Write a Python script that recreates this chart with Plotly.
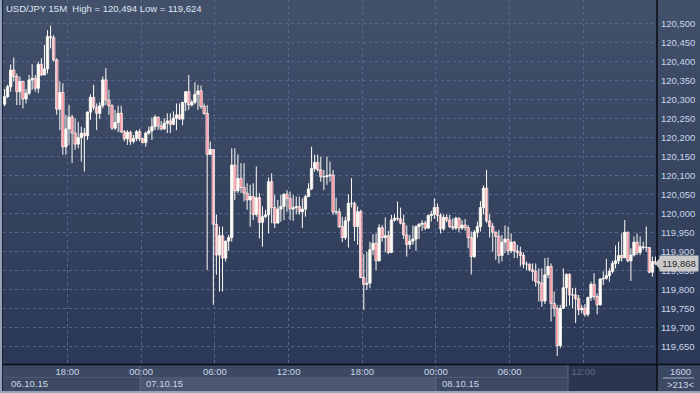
import plotly.graph_objects as go
import pandas as pd

# ---------------- data ----------------
symbol = "USD/JPY"
timeframe = "15M"
first_bar_mid = "2015-10-06 12:52:30"   # bars are 15 minutes each
bar_freq = "15min"
x_start = "2015-10-06 12:45"
x_end = "2015-10-08 18:00"

opens = [120.287, 120.307, 120.333, 120.377, 120.360, 120.320, 120.347, 120.301, 120.316, 120.351,
         120.355, 120.329, 120.392, 120.364, 120.380, 120.465, 120.462, 120.404, 120.274, 120.318,
         120.175, 120.222, 120.253, 120.211, 120.182, 120.199, 120.211, 120.204, 120.266, 120.305,
         120.279, 120.263, 120.283, 120.351, 120.298, 120.283, 120.224, 120.239, 120.263, 120.215,
         120.196, 120.213, 120.189, 120.197, 120.215, 120.196, 120.186, 120.211, 120.217, 120.228,
         120.253, 120.230, 120.222, 120.237, 120.243, 120.234, 120.250, 120.259, 120.248, 120.292,
         120.320, 120.285, 120.292, 120.313, 120.322, 120.281, 120.263, 120.155, 120.168, 119.971,
         119.890, 119.941, 119.882, 119.927, 119.936, 120.127, 120.059, 120.092, 120.068, 120.053,
         120.035, 120.044, 119.997, 120.041, 119.976, 119.991, 119.996, 120.083, 120.015, 119.974,
         120.011, 120.018, 120.050, 120.039, 120.011, 120.015, 120.018, 120.004, 120.011, 120.044,
         120.064, 120.118, 120.134, 120.114, 120.096, 120.096, 120.099, 120.101, 120.003, 120.004,
         119.965, 119.936, 119.980, 120.026, 120.026, 119.965, 120.004, 119.831, 119.813, 119.816,
         119.904, 119.921, 119.875, 119.962, 119.936, 119.941, 119.897, 119.982, 119.987, 119.985,
         119.974, 119.943, 119.918, 119.927, 119.932, 119.965, 119.971, 119.974, 119.961, 119.994,
         119.997, 120.015, 119.994, 119.959, 119.989, 119.982, 119.965, 119.961, 119.987, 119.961,
         119.969, 119.962, 119.936, 119.886, 119.950, 119.965, 120.015, 120.066, 119.980, 119.965,
         119.950, 119.939, 119.889, 119.924, 119.932, 119.901, 119.924, 119.901, 119.897, 119.889,
         119.866, 119.866, 119.851, 119.847, 119.820, 119.816, 119.769, 119.838, 119.860, 119.763,
         119.750, 119.652, 119.750, 119.804, 119.839, 119.785, 119.785, 119.775, 119.746, 119.750,
         119.734, 119.778, 119.813, 119.781, 119.759, 119.827, 119.829, 119.836, 119.847, 119.868,
         119.875, 119.889, 119.883, 119.950, 119.875, 119.890, 119.924, 119.897, 119.912, 119.910,
         119.910, 119.845, 119.873]

highs = [120.327, 120.338, 120.392, 120.410, 120.368, 120.360, 120.347, 120.327, 120.364, 120.392,
         120.364, 120.399, 120.408, 120.443, 120.482, 120.494, 120.469, 120.408, 120.347, 120.342,
         120.259, 120.285, 120.259, 120.250, 120.241, 120.228, 120.224, 120.268, 120.313, 120.338,
         120.289, 120.292, 120.360, 120.382, 120.325, 120.287, 120.272, 120.283, 120.283, 120.219,
         120.219, 120.217, 120.206, 120.219, 120.222, 120.199, 120.215, 120.228, 120.252, 120.259,
         120.254, 120.243, 120.250, 120.263, 120.263, 120.268, 120.289, 120.289, 120.292, 120.320,
         120.364, 120.298, 120.345, 120.338, 120.336, 120.289, 120.285, 120.189, 120.168, 119.997,
         119.965, 119.965, 119.927, 119.943, 120.171, 120.171, 120.155, 120.132, 120.132, 120.079,
         120.075, 120.079, 120.123, 120.053, 120.018, 120.009, 120.094, 120.105, 120.048, 120.035,
         120.048, 120.053, 120.061, 120.057, 120.048, 120.044, 120.044, 120.039, 120.048, 120.079,
         120.175, 120.154, 120.154, 120.149, 120.114, 120.149, 120.136, 120.114, 120.041, 120.013,
         119.991, 119.991, 120.050, 120.092, 120.031, 120.018, 120.009, 119.892, 119.899, 119.925,
         119.945, 119.947, 119.971, 119.969, 119.989, 119.954, 119.996, 119.997, 120.031, 120.015,
         119.997, 119.968, 119.943, 119.968, 119.968, 119.974, 119.982, 119.980, 119.997, 120.006,
         120.039, 120.026, 120.000, 119.997, 119.997, 119.996, 119.987, 119.991, 119.989, 119.982,
         119.985, 119.969, 119.952, 119.956, 119.978, 120.032, 120.073, 120.114, 119.997, 119.974,
         119.952, 119.956, 119.943, 119.968, 119.965, 119.947, 119.927, 119.917, 119.912, 119.897,
         119.873, 119.868, 119.868, 119.868, 119.855, 119.855, 119.882, 119.883, 119.868, 119.794,
         119.759, 119.759, 119.855, 119.842, 119.842, 119.803, 119.804, 119.785, 119.759, 119.761,
         119.781, 119.820, 119.842, 119.789, 119.829, 119.847, 119.880, 119.855, 119.875, 119.915,
         119.925, 119.947, 119.982, 119.952, 119.908, 119.939, 119.947, 119.939, 119.925, 119.965,
         119.910, 119.886, 119.886]

lows = [120.282, 120.303, 120.320, 120.347, 120.285, 120.285, 120.276, 120.289, 120.311, 120.325,
        120.320, 120.316, 120.362, 120.364, 120.368, 120.434, 120.399, 120.259, 120.219, 120.154,
        120.154, 120.180, 120.132, 120.167, 120.171, 120.136, 120.110, 120.193, 120.246, 120.272,
        120.219, 120.248, 120.276, 120.285, 120.259, 120.219, 120.219, 120.213, 120.211, 120.189,
        120.180, 120.180, 120.184, 120.190, 120.189, 120.184, 120.175, 120.206, 120.193, 120.219,
        120.219, 120.218, 120.219, 120.211, 120.211, 120.232, 120.219, 120.246, 120.232, 120.269,
        120.272, 120.281, 120.287, 120.272, 120.275, 120.259, 119.851, 120.154, 119.759, 119.838,
        119.794, 119.794, 119.873, 119.901, 119.925, 120.035, 120.053, 120.053, 120.031, 120.009,
        119.965, 119.982, 119.991, 119.934, 119.912, 119.987, 119.947, 119.974, 119.961, 119.974,
        119.978, 119.982, 120.004, 119.982, 119.980, 119.997, 119.996, 119.961, 119.991, 120.044,
        120.061, 120.110, 120.110, 120.083, 120.061, 120.075, 120.083, 119.996, 119.996, 119.961,
        119.924, 119.930, 119.910, 120.015, 119.927, 119.917, 119.829, 119.746, 119.798, 119.803,
        119.890, 119.851, 119.873, 119.925, 119.897, 119.892, 119.895, 119.978, 119.980, 119.971,
        119.932, 119.886, 119.906, 119.917, 119.901, 119.932, 119.954, 119.956, 119.959, 119.978,
        119.985, 119.978, 119.947, 119.954, 119.976, 119.961, 119.956, 119.956, 119.950, 119.956,
        119.954, 119.908, 119.839, 119.882, 119.936, 119.952, 119.997, 119.974, 119.936, 119.899,
        119.877, 119.868, 119.873, 119.895, 119.890, 119.895, 119.882, 119.882, 119.860, 119.855,
        119.851, 119.847, 119.822, 119.807, 119.768, 119.754, 119.761, 119.829, 119.715, 119.728,
        119.624, 119.645, 119.748, 119.754, 119.757, 119.750, 119.711, 119.732, 119.737, 119.728,
        119.728, 119.769, 119.772, 119.734, 119.757, 119.811, 119.825, 119.820, 119.842, 119.855,
        119.866, 119.873, 119.882, 119.871, 119.822, 119.886, 119.890, 119.890, 119.904, 119.899,
        119.842, 119.833, 119.864]

closes = [120.307, 120.333, 120.377, 120.360, 120.320, 120.347, 120.301, 120.316, 120.351, 120.355,
          120.329, 120.392, 120.364, 120.380, 120.465, 120.462, 120.404, 120.274, 120.318, 120.175,
          120.222, 120.253, 120.211, 120.182, 120.199, 120.211, 120.204, 120.266, 120.305, 120.279,
          120.263, 120.283, 120.351, 120.298, 120.283, 120.224, 120.239, 120.263, 120.215, 120.196,
          120.213, 120.189, 120.197, 120.215, 120.196, 120.186, 120.211, 120.217, 120.228, 120.253,
          120.230, 120.222, 120.237, 120.243, 120.234, 120.250, 120.259, 120.248, 120.292, 120.320,
          120.285, 120.292, 120.313, 120.322, 120.281, 120.263, 120.155, 120.168, 119.971, 119.890,
          119.941, 119.882, 119.927, 119.936, 120.127, 120.059, 120.092, 120.068, 120.053, 120.035,
          120.044, 119.997, 120.041, 119.976, 119.991, 119.996, 120.083, 120.015, 119.974, 120.011,
          120.018, 120.050, 120.039, 120.011, 120.015, 120.018, 120.004, 120.011, 120.044, 120.064,
          120.118, 120.134, 120.114, 120.096, 120.096, 120.099, 120.101, 120.003, 120.004, 119.965,
          119.936, 119.980, 120.026, 120.026, 119.965, 120.004, 119.831, 119.813, 119.816, 119.904,
          119.921, 119.875, 119.962, 119.936, 119.941, 119.897, 119.982, 119.987, 119.985, 119.974,
          119.943, 119.918, 119.927, 119.932, 119.965, 119.971, 119.974, 119.961, 119.994, 119.997,
          120.015, 119.994, 119.959, 119.989, 119.982, 119.965, 119.961, 119.987, 119.961, 119.969,
          119.962, 119.936, 119.886, 119.950, 119.965, 120.015, 120.066, 119.980, 119.965, 119.950,
          119.939, 119.889, 119.924, 119.932, 119.901, 119.924, 119.901, 119.897, 119.889, 119.866,
          119.866, 119.851, 119.847, 119.820, 119.816, 119.769, 119.838, 119.860, 119.763, 119.750,
          119.652, 119.750, 119.804, 119.839, 119.785, 119.785, 119.775, 119.746, 119.750, 119.734,
          119.778, 119.813, 119.781, 119.759, 119.827, 119.829, 119.836, 119.847, 119.868, 119.875,
          119.889, 119.883, 119.950, 119.875, 119.890, 119.924, 119.897, 119.912, 119.910, 119.910,
          119.845, 119.873, 119.868]

price_ticks = [119.65, 119.70, 119.75, 119.80, 119.85, 119.90, 119.95, 120.00, 120.05,
               120.10, 120.15, 120.20, 120.25, 120.30, 120.35, 120.40, 120.45, 120.50]
time_ticks = ["2015-10-06 18:00", "2015-10-07 00:00", "2015-10-07 06:00", "2015-10-07 12:00",
              "2015-10-07 18:00", "2015-10-08 00:00", "2015-10-08 06:00", "2015-10-08 12:00"]
time_labels = ["18:00", "00:00", "06:00", "12:00", "18:00", "00:00", "06:00", "12:00"]
day_labels = ["06.10.15", "07.10.15", "08.10.15"]
corner_top = "1600"

# ---------------- layout geometry ----------------
W, H = 700, 393
ML, MR, MT, MB = 3, 43, 0, 29
PW = W - ML - MR
PH = H - MT - MB
y_range = [119.6033, 120.5613]
BAR_MS = 15 * 60 * 1000


def px(x):
    return (x - ML) / PW


def py(y):
    return (H - MB - y) / PH


def fmt(v):
    return f"{v:.3f}".replace(".", ",")


times = list(pd.date_range(first_bar_mid, periods=len(closes), freq=bar_freq))

candle_white = "#fffcf5"
candle_red = "#ee0a36"

# wicks
wx, wy = [], []
for t, lo, hi in zip(times, lows, highs):
    wx += [t, t, None]
    wy += [lo, hi, None]

body_base = [min(o, c) for o, c in zip(opens, closes)]
body_size = [abs(c - o) for o, c in zip(opens, closes)]
body_color = [candle_red if c < o else candle_white for o, c in zip(opens, closes)]

fig = go.Figure()
fig.add_trace(go.Scatter(x=wx, y=wy, mode="lines", line=dict(color=candle_white, width=1),
                         hoverinfo="skip", showlegend=False))
fig.add_trace(go.Bar(x=times, y=body_size, base=body_base, width=BAR_MS * 0.78,
                     marker=dict(color=body_color, line=dict(color=candle_white, width=0.8)),
                     hoverinfo="skip", showlegend=False))

shapes = []
# vertical gradient background (plot + right scale)
top_c = (66, 80, 106)
bot_c = (43, 57, 87)
N = 52
for k in range(N):
    t = k / (N - 1)
    c = tuple(round(top_c[j] + (bot_c[j] - top_c[j]) * t) for j in range(3))
    y0 = k * PH / N
    y1 = (k + 1) * PH / N + 0.6
    shapes.append(dict(type="rect", xref="paper", yref="paper", layer="below",
                       x0=px(0), x1=px(W), y0=py(y0), y1=py(y1),
                       fillcolor=f"rgb{c}", line=dict(width=0)))

# time strip
strip_c = "#3d4962"
shapes.append(dict(type="rect", xref="paper", yref="paper", layer="below",
                   x0=px(0), x1=px(W), y0=py(H), y1=py(PH),
                   fillcolor=strip_c, line=dict(width=0)))
shapes.append(dict(type="rect", xref="paper", yref="paper", layer="below",
                   x0=px(140), x1=px(436), y0=py(391), y1=py(378),
                   fillcolor="#4a5672", line=dict(width=0)))
shapes.append(dict(type="line", xref="paper", yref="paper", layer="below",
                   x0=px(3), x1=px(568), y0=py(377.5), y1=py(377.5),
                   line=dict(color="#4c5874", width=1)))
shapes.append(dict(type="rect", xref="paper", yref="paper", layer="below",
                   x0=px(568), x1=px(657), y0=py(391), y1=py(365),
                   fillcolor="#2b3550", line=dict(width=0)))
for xx in (140, 436, 568):
    shapes.append(dict(type="line", xref="paper", yref="paper", layer="below",
                       x0=px(xx), x1=px(xx), y0=py(391), y1=py(365),
                       line=dict(color="#5a6682", width=1)))
shapes.append(dict(type="line", xref="paper", yref="paper", layer="above",
                   x0=px(663), x1=px(694), y0=py(378), y1=py(378),
                   line=dict(color="#9fb0cc", width=1)))
# black frame lines
shapes.append(dict(type="line", xref="paper", yref="paper", layer="above",
                   x0=px(0), x1=px(W), y0=py(364.5), y1=py(364.5),
                   line=dict(color="#0a0d14", width=1.5)))
shapes.append(dict(type="line", xref="paper", yref="paper", layer="above",
                   x0=px(657), x1=px(657), y0=py(0), y1=py(392),
                   line=dict(color="#0a0d14", width=1.5)))
shapes.append(dict(type="line", xref="paper", yref="paper", layer="above",
                   x0=px(2.5), x1=px(2.5), y0=py(0), y1=py(392),
                   line=dict(color="#1a2030", width=1)))
# light outer border (left & bottom)
shapes.append(dict(type="rect", xref="paper", yref="paper", layer="above",
                   x0=px(0), x1=px(2), y0=py(H), y1=py(0),
                   fillcolor="#93a2bb", line=dict(width=0)))
shapes.append(dict(type="rect", xref="paper", yref="paper", layer="above",
                   x0=px(0), x1=px(W), y0=py(H), y1=py(391),
                   fillcolor="#93a2bb", line=dict(width=0)))

# current price marker triangle
last = closes[-1]
ppx = (y_range[1] - y_range[0]) / PH
shapes.append(dict(type="path", xref="paper", yref="y", layer="above",
                   path=f"M {px(655)},{last} L {px(661)},{last + 7 * ppx} L {px(661)},{last - 7 * ppx} Z",
                   fillcolor="#c9c9c9", line=dict(width=0)))

label_color = "#c9d5ea"
font_family = "Liberation Sans, Arial, sans-serif"

annotations = [
    dict(xref="paper", yref="paper", x=px(4), y=py(8), xanchor="left", yanchor="middle",
         text=f"{symbol} {timeframe}  High = {fmt(max(highs))} Low = {fmt(min(lows))}",
         showarrow=False, font=dict(size=9.5, color="#dfe6f1", family=font_family)),
    dict(xref="paper", yref="y", x=px(659), y=last, xanchor="left", yanchor="middle",
         text=fmt(last), showarrow=False, bgcolor="#c9c9c9", width=36, height=13,
         font=dict(size=9.5, color="#2a2a2a", family=font_family)),
    dict(xref="paper", yref="paper", x=px(680), y=py(371.5), xanchor="center", yanchor="middle",
         text=corner_top, showarrow=False, font=dict(size=9.5, color=label_color, family=font_family)),
    dict(xref="paper", yref="paper", x=px(680), y=py(384.5), xanchor="center", yanchor="middle",
         text=f"&gt;{len(closes)}&lt;", showarrow=False,
         font=dict(size=9.5, color=label_color, family=font_family)),
]
for lbl, xx in zip(day_labels, (9, 144, 440)):
    annotations.append(dict(xref="paper", yref="paper", x=px(xx), y=py(383.5), xanchor="left",
                            yanchor="middle", text=lbl, showarrow=False,
                            font=dict(size=9.5, color=label_color, family=font_family)))

tick_text = [t if i < len(time_labels) - 1 else f"<span style='color:#5c6984'>{t}</span>"
             for i, t in enumerate(time_labels)]

fig.update_layout(
    width=W, height=H,
    margin=dict(l=ML, r=MR, t=MT, b=MB),
    paper_bgcolor="#3d4962",
    plot_bgcolor="rgba(0,0,0,0)",
    separators=", ",
    showlegend=False,
    barmode="overlay",
    shapes=shapes,
    annotations=annotations,
    font=dict(family=font_family, size=9.5, color=label_color),
    xaxis=dict(type="date", range=[x_start, x_end],
               tickvals=time_ticks, ticktext=tick_text, showgrid=True,
               gridcolor="#56658a", griddash="3px,3px", gridwidth=1,
               zeroline=False, showline=False, ticks="", ticklabelstandoff=0,
               tickfont=dict(size=9.5, color=label_color, family=font_family)),
    yaxis=dict(range=y_range, side="right", tickvals=price_ticks, tickformat=".3f",
               showgrid=True, gridcolor="#56658a", griddash="3px,3px", gridwidth=1,
               zeroline=False, showline=False, ticks="", ticklabelstandoff=3,
               tickfont=dict(size=9.5, color=label_color, family=font_family)),
)

fig.write_html("out.html", config={"displayModeBar": False},
               post_script="document.body.style.margin='0';document.body.style.overflow='hidden';")
